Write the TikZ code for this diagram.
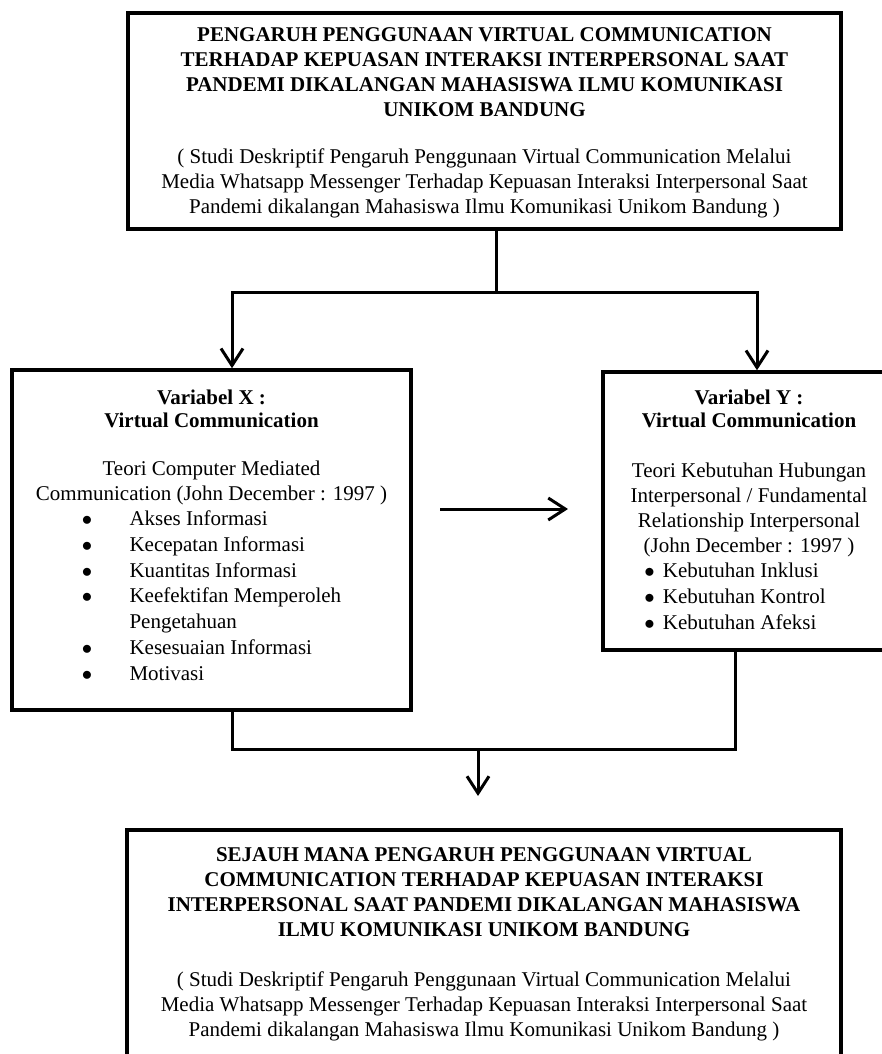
\documentclass[tikz,border=0pt]{standalone}
\usepackage{fontspec}
\setmainfont{Liberation Serif}
\usetikzlibrary{arrows.meta}

\begin{document}
\begin{tikzpicture}[x=1pt,y=-1pt,
    kotak/.style={draw, line width=3.5pt, inner sep=0pt, font=\fontsize{21}{25}\selectfont},
    garis/.style={line width=3pt},
    panah/.style={line width=3pt, -{Straight Barb[length=17pt,width=22pt]}}]

\useasboundingbox (0,0) rectangle (881,1054);

%judul penelitian
\node[kotak] (judul) at (484.5,121) {\parbox[c][216pt][t]{713pt}{\centering\vspace*{15pt}%
    \textbf{PENGARUH PENGGUNAAN VIRTUAL COMMUNICATION\\
    TERHADAP KEPUASAN INTERAKSI INTERPERSONAL SAAT\\
    PANDEMI DIKALANGAN MAHASISWA  ILMU KOMUNIKASI\\
    UNIKOM BANDUNG}\\[22pt]
    ( Studi Deskriptif Pengaruh Penggunaan Virtual Communication Melalui\\
    Media Whatsapp Messenger Terhadap Kepuasan Interaksi Interpersonal Saat\\
    Pandemi dikalangan Mahasiswa Ilmu Komunikasi Unikom Bandung )}};

%variabel X
\node[kotak] (varx) at (211.5,540) {\parbox[c][340pt][t]{399pt}{\centering\vspace*{20pt}%
    \textbf{Variabel X :\\[-2pt]Virtual Communication}\\[23pt]
    Teori Computer Mediated\\
    Communication (John December : 1997 )\\
    \renewcommand{\arraystretch}{1.03}%
    \begin{tabular}[t]{@{}p{47.7pt}@{}l@{}}
    $\bullet$ & Akses Informasi\\
    $\bullet$ & Kecepatan Informasi\\
    $\bullet$ & Kuantitas Informasi\\
    $\bullet$ & Keefektifan Memperoleh\\
              & Pengetahuan\\
    $\bullet$ & Kesesuaian Informasi\\
    $\bullet$ & Motivasi
    \end{tabular}}};

%variabel Y
\node[kotak] (vary) at (749,511) {\parbox[c][278pt][t]{292pt}{\centering\vspace*{18pt}%
    \textbf{Variabel Y :\\[-2pt]Virtual Communication}\\[25pt]
    Teori Kebutuhan Hubungan\\
    Interpersonal / Fundamental\\
    Relationship Interpersonal\\
    (John December : 1997 )\\
    \renewcommand{\arraystretch}{1.03}%
    \begin{tabular}[t]{@{}p{18.7pt}@{}l@{\hspace{28pt}}}
    $\bullet$ & Kebutuhan Inklusi\\
    $\bullet$ & Kebutuhan Kontrol\\
    $\bullet$ & Kebutuhan Afeksi
    \end{tabular}}};

%hasil
\node[kotak, anchor=north] (hasil) at (484,828) {\parbox[c][240pt][t]{714pt}{\centering\vspace*{18pt}%
    \textbf{SEJAUH MANA PENGARUH PENGGUNAAN VIRTUAL\\
    COMMUNICATION TERHADAP KEPUASAN INTERAKSI\\
    INTERPERSONAL SAAT PANDEMI DIKALANGAN MAHASISWA\\
    ILMU KOMUNIKASI UNIKOM BANDUNG}\\[25pt]
    ( Studi Deskriptif Pengaruh Penggunaan Virtual Communication Melalui\\
    Media Whatsapp Messenger Terhadap Kepuasan Interaksi Interpersonal Saat\\
    Pandemi dikalangan Mahasiswa Ilmu Komunikasi Unikom Bandung )}};

%titik-titik penghubung
\coordinate (cabang) at (496,292);
\coordinate (kiriAtas) at (232,292);
\coordinate (kananAtas) at (757,292);
\coordinate (pangkal) at (440,509);
\coordinate (tujuan) at (568,509);
\coordinate (kiriBawah) at (232,749);
\coordinate (kananBawah) at (735,749);
\coordinate (tengah) at (478,749);
\coordinate (ujung) at (478,796);

\draw[garis] (judul.south -| cabang) -- (cabang);
\draw[panah] (cabang) -- (kiriAtas) -- (kiriAtas |- varx.north);
\draw[panah] (cabang) -- (kananAtas) -- (kananAtas |- vary.north);
\draw[panah] (pangkal) -- (tujuan);
\draw[garis] (varx.south -| kiriBawah) -- (kiriBawah) -- (kananBawah) -- (vary.south -| kananBawah);
\draw[panah] (tengah) -- (ujung);

\end{tikzpicture}
\end{document}
